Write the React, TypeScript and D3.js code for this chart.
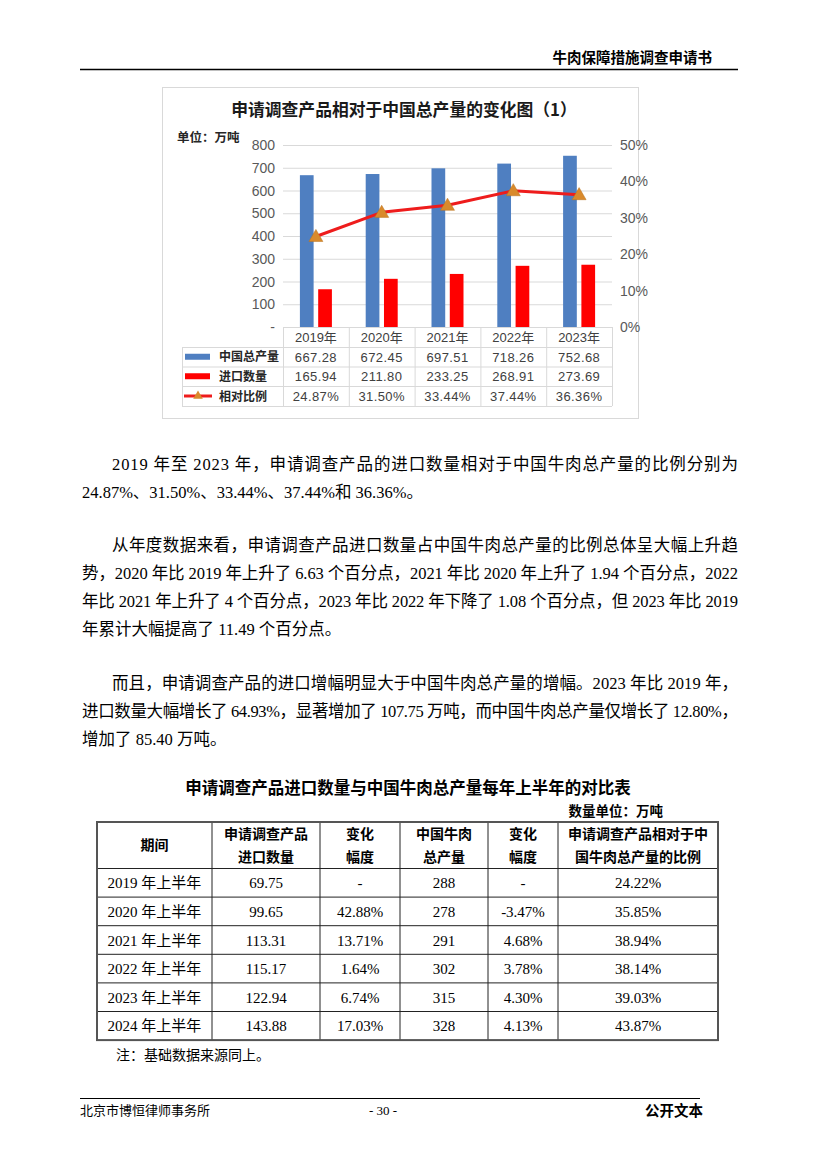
import React from "react";
import * as d3 from "d3";

// ---------- chart data ----------
const years = ["2019年", "2020年", "2021年", "2022年", "2023年"];
const totalOutput = [667.28, 672.45, 697.51, 718.26, 752.68];
const importQty = [165.94, 211.8, 233.25, 268.91, 273.69];
const ratioPct = [24.87, 31.5, 33.44, 37.44, 36.36];
const leftTicks = [0, 100, 200, 300, 400, 500, 600, 700, 800];
const rightTicks = [0, 10, 20, 30, 40, 50];
const seriesNames = ["中国总产量", "进口数量", "相对比例"];

// ---------- table data ----------
const periods = ["2019 年上半年", "2020 年上半年", "2021 年上半年", "2022 年上半年", "2023 年上半年", "2024 年上半年"];
const halfImports = ["69.75", "99.65", "113.31", "115.17", "122.94", "143.88"];
const importChange = ["-", "42.88%", "13.71%", "1.64%", "6.74%", "17.03%"];
const halfOutput = ["288", "278", "291", "302", "315", "328"];
const outputChange = ["-", "-3.47%", "4.68%", "3.78%", "4.30%", "4.13%"];
const halfRatio = ["24.22%", "35.85%", "38.94%", "38.14%", "39.03%", "43.87%"];
const tableHeaders = [
  ["期间"],
  ["申请调查产品", "进口数量"],
  ["变化", "幅度"],
  ["中国牛肉", "总产量"],
  ["变化", "幅度"],
  ["申请调查产品相对于中", "国牛肉总产量的比例"],
];

// ---------- text ----------
const para1 = [
  "2019 年至 2023 年，申请调查产品的进口数量相对于中国牛肉总产量的比例分别为",
  "24.87%、31.50%、33.44%、37.44%和 36.36%。",
];
const para2 = [
  "从年度数据来看，申请调查产品进口数量占中国牛肉总产量的比例总体呈大幅上升趋",
  "势，2020 年比 2019 年上升了 6.63 个百分点，2021 年比 2020 年上升了 1.94 个百分点，2022",
  "年比 2021 年上升了 4 个百分点，2023 年比 2022 年下降了 1.08 个百分点，但 2023 年比 2019",
  "年累计大幅提高了 11.49 个百分点。",
];
const para3 = [
  "而且，申请调查产品的进口增幅明显大于中国牛肉总产量的增幅。2023 年比 2019 年，",
  "进口数量大幅增长了 64.93%，显著增加了 107.75 万吨，而中国牛肉总产量仅增长了 12.80%，",
  "增加了 85.40 万吨。",
];

const SERIF = "'Liberation Serif', 'Times New Roman', 'Noto Sans CJK SC', serif";
const SANS = "'Noto Sans CJK SC', 'Liberation Sans', sans-serif";
const CHART = "'Liberation Sans', 'Noto Sans CJK SC', sans-serif";

const BLUE = "#4F7FC1";
const RED = "#FF0000";
const LINE = "#EE1C1C";
const TRI = "#D98A2C";
const GRID = "#D9D9D9";

function Paragraph({ lines, y0 }: { lines: string[]; y0: number }) {
  return (
    <g fontFamily={SERIF} fontSize={16.5} fill="#000">
      {lines.map((t, i) => {
        const x = i === 0 ? 112 : 82;
        const last = i === lines.length - 1;
        const props: any = {};
        if (!last) {
          props.textLength = 738 - x;
          props.lengthAdjust = "spacing";
        }
        return (
          <text key={i} x={x} y={y0 + i * 28} {...props}>
            {t}
          </text>
        );
      })}
    </g>
  );
}

export default function App() {
  // chart scales
  const plotL = 283, plotR = 612, plotT = 145, plotB = 327;
  const x = d3.scaleBand<string>().domain(years).range([plotL, plotR]);
  const inner = d3.scaleBand<string>().domain(["a", "b"]).range([-16, 16]).paddingInner(0.25);
  const yL = d3.scaleLinear().domain([0, 800]).range([plotB, plotT]);
  const yR = d3.scaleLinear().domain([0, 50]).range([plotB, plotT]);
  const cx = (i: number) => (x(years[i]) as number) + x.bandwidth() / 2;
  const line = d3
    .line<number>()
    .x((_, i) => cx(i))
    .y((d) => yR(d));
  const tri = d3.symbol().type(d3.symbolTriangle).size(85)() as string;
  const triSmall = d3.symbol().type(d3.symbolTriangle).size(40)() as string;

  // chart data-table rows
  const rowY = [327, 347, 366.5, 386, 406];
  const legendL = 182;
  const rowsVals = [
    totalOutput.map((v) => v.toFixed(2)),
    importQty.map((v) => v.toFixed(2)),
    ratioPct.map((v) => v.toFixed(2) + "%"),
  ];

  // table layout
  const colX = [97, 212, 320, 400, 488, 558, 718];
  const tTop = 822, headB = 868.5, rowH = 28.6;
  const tRows = periods.map((p, i) => [p, halfImports[i], importChange[i], halfOutput[i], outputChange[i], halfRatio[i]]);
  const tBottom = headB + rowH * tRows.length;

  return (
    <svg
      width={827}
      height={1170}
      style={{ position: "absolute", left: 0, top: 0, display: "block", background: "#fff" }}
    >
      <rect x={0} y={0} width={827} height={1170} fill="#fff" />
      {/* page header */}
      <text x={712} y={63} textAnchor="end" fontFamily={SANS} fontWeight={700} fontSize={14.5}>
        牛肉保障措施调查申请书
      </text>
      <line x1={80} x2={738} y1={69.5} y2={69.5} stroke="#000" strokeWidth={1.5} />

      {/* chart frame */}
      <rect x={162.5} y={87.5} width={476} height={331} fill="#fff" stroke={GRID} strokeWidth={1} />
      <text x={404} y={116} textAnchor="middle" fontFamily={SANS} fontWeight={700} fontSize={16.8} fill="#1a1a1a">
        申请调查产品相对于中国总产量的变化图（1）
      </text>
      <text x={177} y={142} fontFamily={SANS} fontWeight={700} fontSize={12.5} fill="#262626">
        单位：万吨
      </text>

      {/* gridlines */}
      {leftTicks.map((t) => (
        <line key={t} x1={plotL} x2={plotR} y1={yL(t) + 0.5} y2={yL(t) + 0.5} stroke={GRID} strokeWidth={1} />
      ))}
      {/* left tick labels */}
      {leftTicks.map((t) => (
        <text key={"l" + t} x={275} y={yL(t) + 5} textAnchor="end" fontFamily={CHART} fontSize={14} fill="#595959">
          {t === 0 ? "-" : String(t)}
        </text>
      ))}
      {/* right tick labels */}
      {rightTicks.map((t) => (
        <text key={"r" + t} x={620} y={yR(t) + 5} fontFamily={CHART} fontSize={14} fill="#595959">
          {t + "%"}
        </text>
      ))}

      {/* bars */}
      {years.map((yr, i) => {
        const x0 = x(yr) as number;
        const c = x0 + x.bandwidth() / 2;
        return (
          <g key={yr}>
            <rect
              x={c + (inner("a") as number)}
              y={yL(totalOutput[i])}
              width={inner.bandwidth()}
              height={plotB - yL(totalOutput[i])}
              fill={BLUE}
            />
            <rect
              x={c + (inner("b") as number)}
              y={yL(importQty[i])}
              width={inner.bandwidth()}
              height={plotB - yL(importQty[i])}
              fill={RED}
            />
          </g>
        );
      })}

      {/* ratio line */}
      <path d={line(ratioPct) as string} fill="none" stroke={LINE} strokeWidth={3} strokeLinejoin="round" />
      {ratioPct.map((v, i) => (
        <path key={i} d={tri} transform={`translate(${cx(i)},${yR(v) + 1})`} fill={TRI} stroke="#B9731F" strokeWidth={0.5} />
      ))}

      {/* chart data table */}
      <g stroke={GRID} strokeWidth={1}>
        <line x1={plotL} x2={plotR} y1={rowY[0] + 0.5} y2={rowY[0] + 0.5} />
        {rowY.slice(1).map((yy, k) => (
          <line key={k} x1={legendL} x2={plotR} y1={yy + 0.5} y2={yy + 0.5} />
        ))}
        <line x1={legendL + 0.5} x2={legendL + 0.5} y1={rowY[1]} y2={rowY[4]} />
        {years.map((yr) => (
          <line key={yr} x1={(x(yr) as number) + 0.5} x2={(x(yr) as number) + 0.5} y1={rowY[0]} y2={rowY[4]} />
        ))}
        <line x1={plotR + 0.5} x2={plotR + 0.5} y1={rowY[0]} y2={rowY[4]} />
      </g>
      {years.map((yr, i) => (
        <text key={yr} x={cx(i)} y={(rowY[0] + rowY[1]) / 2 + 5} textAnchor="middle" fontFamily={CHART} fontSize={13} fill="#404040">
          {yr}
        </text>
      ))}
      {rowsVals.map((vals, r) =>
        vals.map((v, i) => (
          <text
            key={r + "-" + i}
            x={cx(i)}
            y={(rowY[r + 1] + rowY[r + 2]) / 2 + 5}
            textAnchor="middle"
            fontFamily={CHART}
            fontSize={13}
            letterSpacing={0.4}
            fill="#404040"
          >
            {v}
          </text>
        ))
      )}
      {/* legend keys */}
      {seriesNames.map((name, r) => {
        const my = (rowY[r + 1] + rowY[r + 2]) / 2;
        return (
          <g key={name}>
            {r === 0 && <rect x={185} y={my - 3} width={25} height={6} fill={BLUE} />}
            {r === 1 && <rect x={185} y={my - 3} width={25} height={6} fill={RED} />}
            {r === 2 && (
              <g>
                <line x1={184} x2={212} y1={my} y2={my} stroke={LINE} strokeWidth={3} />
                <path d={triSmall} transform={`translate(${198},${my})`} fill={TRI} />
              </g>
            )}
            <text x={219} y={my + 4.5} fontFamily={SANS} fontWeight={700} fontSize={12} fill="#262626">
              {name}
            </text>
          </g>
        );
      })}

      {/* paragraphs */}
      <Paragraph lines={para1} y0={470} />
      <Paragraph lines={para2} y0={551} />
      <Paragraph lines={para3} y0={689} />

      {/* table title */}
      <text x={408} y={794} textAnchor="middle" fontFamily={SANS} fontWeight={700} fontSize={16.5}>
        申请调查产品进口数量与中国牛肉总产量每年上半年的对比表
      </text>
      <text x={663} y={816} textAnchor="end" fontFamily={SANS} fontWeight={700} fontSize={13.5}>
        数量单位：万吨
      </text>

      {/* table grid */}
      <g>
        {tRows.map((_, i) => (
          <line key={i} x1={colX[0]} x2={colX[6]} y1={headB + i * rowH} y2={headB + i * rowH} stroke="#222" strokeWidth={1} />
        ))}
        {colX.slice(1, 6).map((cxx, k) => (
          <line key={k} x1={cxx} x2={cxx} y1={tTop} y2={tBottom} stroke="#222" strokeWidth={1} />
        ))}
        <rect x={colX[0]} y={tTop} width={colX[6] - colX[0]} height={tBottom - tTop} fill="none" stroke="#555" strokeWidth={2} />
      </g>
      {tableHeaders.map((lines, c) => {
        const mx = (colX[c] + colX[c + 1]) / 2;
        const my = (tTop + headB) / 2;
        return lines.length === 1 ? (
          <text key={c} x={mx} y={my + 5} textAnchor="middle" fontFamily={SANS} fontWeight={700} fontSize={14}>
            {lines[0]}
          </text>
        ) : (
          <g key={c}>
            <text x={mx} y={my - 6} textAnchor="middle" fontFamily={SANS} fontWeight={700} fontSize={14}>
              {lines[0]}
            </text>
            <text x={mx} y={my + 17} textAnchor="middle" fontFamily={SANS} fontWeight={700} fontSize={14}>
              {lines[1]}
            </text>
          </g>
        );
      })}
      {tRows.map((row, i) =>
        row.map((v, c) => (
          <text
            key={i + "-" + c}
            x={(colX[c] + colX[c + 1]) / 2}
            y={headB + i * rowH + rowH / 2 + 5.5}
            textAnchor="middle"
            fontFamily={SERIF}
            fontSize={15}
          >
            {v}
          </text>
        ))
      )}
      <text x={116} y={1060} fontFamily={SERIF} fontSize={14}>
        注：基础数据来源同上。
      </text>

      {/* footer */}
      <line x1={80} x2={700} y1={1098.5} y2={1098.5} stroke="#000" strokeWidth={1} />
      <text x={80} y={1115} fontFamily={SERIF} fontSize={13}>
        北京市博恒律师事务所
      </text>
      <text x={383} y={1115} textAnchor="middle" fontFamily={SERIF} fontSize={13}>
        - 30 -
      </text>
      <text x={703} y={1116} textAnchor="end" fontFamily={SANS} fontWeight={700} fontSize={14.5}>
        公开文本
      </text>
    </svg>
  );
}
